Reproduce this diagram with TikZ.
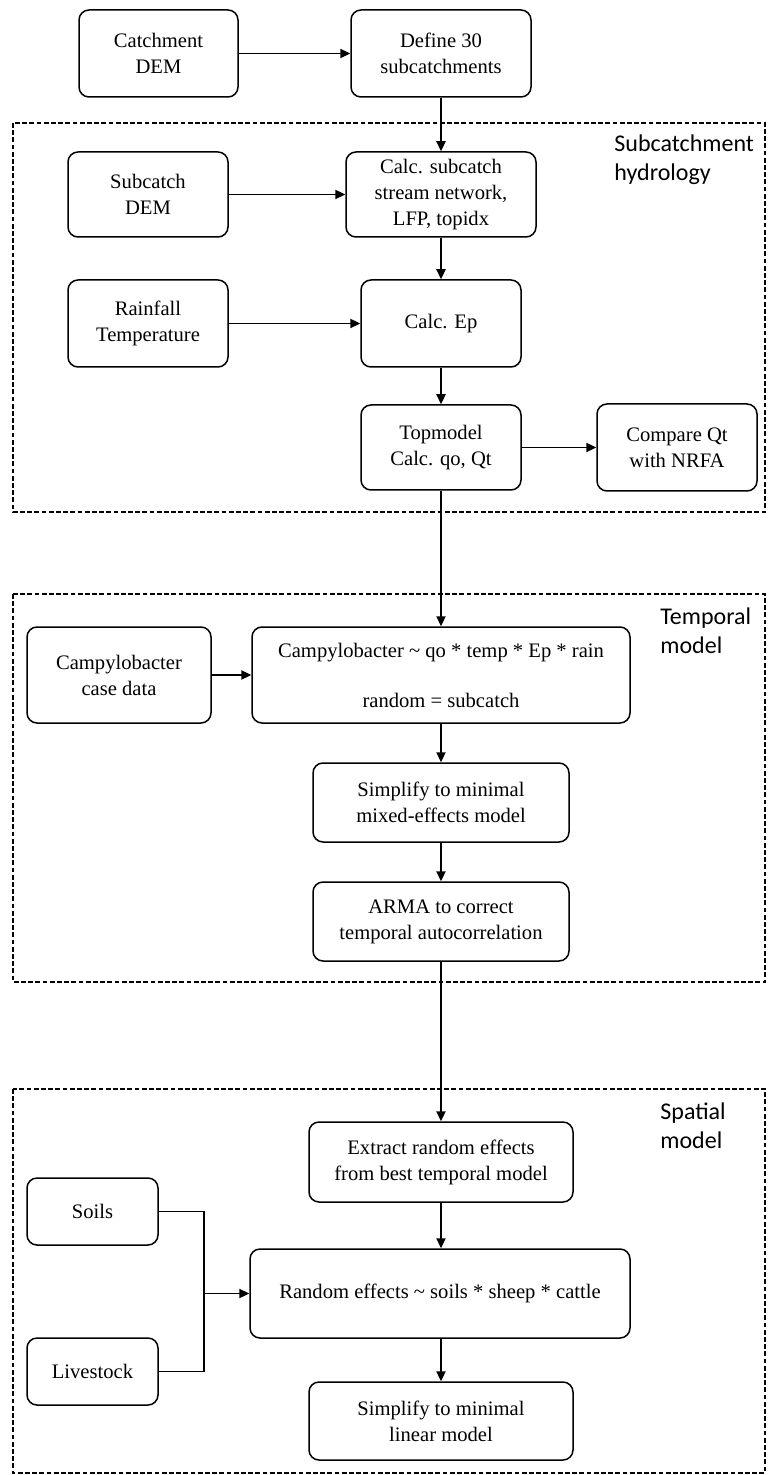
\documentclass[tikz,border=0pt]{standalone}
\usepackage{fontspec}
\setmainfont{Liberation Serif}
\newfontfamily\lblfont{Carlito}
\usetikzlibrary{arrows.meta}
\begin{document}
\begin{tikzpicture}[x=0.5pt,y=-0.5pt,
  blk/.style={draw,rounded corners=5pt,line width=0.75pt,align=center,inner sep=0pt,
    font=\fontsize{10.3}{13}\selectfont},
  arr/.style={line width=0.75pt,-{Triangle[length=5pt,width=4.6pt]}},
  grp/.style={draw,dash pattern=on 2.4pt off 1.2pt,line width=0.6pt},
  lbl/.style={align=left,anchor=west,inner sep=0pt,font=\lblfont\fontsize{12}{14.5}\selectfont}]
\useasboundingbox (0,0) rectangle (768,1475);

% group frames
\draw[grp] (13,123) rectangle (765,512);
\draw[grp] (13,594) rectangle (765,982);
\draw[grp] (13,1089) rectangle (765,1473);
\node[lbl] (hyd) at (614,160) {Subcatchment\\hydrology};
\node[lbl] (temp) at (660,631) {Temporal\\model};
\node[lbl] (spat) at (660,1126) {Spatial\\model};

\node[blk,minimum width=79.5pt,minimum height=43.5pt] (cdem) at (158.5,53.5) {Catchment\\DEM};
\node[blk,minimum width=90pt,minimum height=43.5pt] (define) at (441,53.5) {Define 30\\subcatchments};
\node[blk,minimum width=80pt,minimum height=42.5pt] (sdem) at (148,194.5) {Subcatch\\DEM};
\node[blk,minimum width=95pt,minimum height=42.5pt] (calcsub) at (441,194.5) {Calc. subcatch\\stream network,\\LFP, topidx};
\node[blk,minimum width=80pt,minimum height=43.5pt] (rain) at (148,323.5) {Rainfall\\Temperature};
\node[blk,minimum width=80pt,minimum height=43.5pt] (calcep) at (441,323.5) {Calc. Ep};
\node[blk,minimum width=80pt,minimum height=42.5pt] (topm) at (441,447.5) {Topmodel\\Calc. qo, Qt};
\node[blk,minimum width=80pt,minimum height=43.5pt] (cmp) at (677,447.5) {Compare Qt\\with NRFA};

\node[blk,minimum width=92pt,minimum height=48pt] (campy) at (119,675) {Campylobacter\\case data};
\node[blk,minimum width=189pt,minimum height=48pt] (formula) at (441,675) {Campylobacter \textasciitilde{} qo * temp * Ep * rain\\[12pt]random = subcatch};
\node[blk,minimum width=128pt,minimum height=39.5pt] (simp1) at (441,802.5) {Simplify to minimal\\mixed-effects model};
\node[blk,minimum width=128pt,minimum height=39.5pt] (arma) at (441,921.5) {ARMA to correct\\temporal autocorrelation};

\node[blk,minimum width=132pt,minimum height=40pt] (extract) at (441,1162) {Extract random effects\\from best temporal model};
\node[blk,minimum width=65.5pt,minimum height=33.5pt] (soils) at (92.5,1211.5) {Soils};
\node[blk,minimum width=190pt,minimum height=44.5pt] (randef) at (440,1293.5) {Random effects \textasciitilde{} soils * sheep * cattle};
\node[blk,minimum width=65.5pt,minimum height=33.5pt] (livest) at (92.5,1371.5) {Livestock};
\node[blk,minimum width=132pt,minimum height=39pt] (simp2) at (441,1421) {Simplify to minimal\\linear model};
\coordinate (jn) at (204,1293.5);

\draw (cdem) edge[arr] (define);
\draw (define) edge[arr] (calcsub);
\draw (sdem) edge[arr] (calcsub);
\draw (calcsub) edge[arr] (calcep);
\draw (rain) edge[arr] (calcep);
\draw (calcep) edge[arr] (topm);
\draw (topm) edge[arr] (cmp);
\draw (topm) edge[arr] (formula);
\draw (campy) edge[arr] (formula);
\draw (formula) edge[arr] (simp1);
\draw (simp1) edge[arr] (arma);
\draw[arr] (arma.south) -- (arma.south |- extract.north);
\draw[arr] (extract.south) -- (extract.south |- randef.north);
\draw[line width=0.75pt] (soils.east) -| (jn);
\draw[line width=0.75pt] (livest.east) -| (jn);
\draw[arr] (jn) -- (randef.west);
\draw[arr] (randef.south -| simp2.north) -- (simp2.north);
\end{tikzpicture}
\end{document}
